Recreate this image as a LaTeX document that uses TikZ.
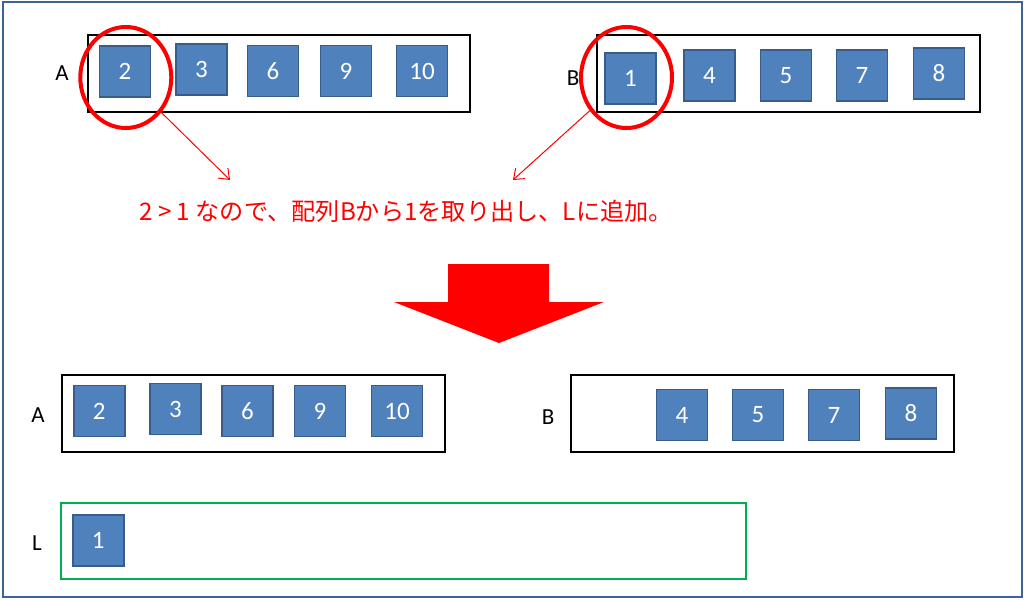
\documentclass[tikz,border=0pt]{standalone}
\usepackage{fontspec}
\setmainfont{Carlito}
\newfontfamily\jpfont{Noto Sans CJK JP}
\usetikzlibrary{shapes.geometric,arrows.meta}
\definecolor{cellfill}{HTML}{4F81BD}
\definecolor{celledge}{HTML}{385D8A}
\definecolor{framecol}{RGB}{62,100,150}
\definecolor{lgreen}{HTML}{00B050}
\begin{document}
\begin{tikzpicture}[x=1pt,y=-1pt,
  cell/.style={draw=celledge, line width=1.5pt, fill=cellfill, minimum size=51pt, inner sep=0pt, text=white, font=\fontsize{25}{30}\selectfont},
  arrbox/.style={draw=black, line width=2pt, inner sep=0pt},
  lbox/.style={draw=lgreen, line width=2.5pt, inner sep=0pt},
  lab/.style={font=\fontsize{23}{28}\selectfont, inner sep=0pt},
  ring/.style={ellipse, draw=red, line width=4pt, minimum width=91pt, minimum height=101pt, inner sep=0pt},
  pointer/.style={draw=red, line width=1pt, -{Straight Barb[length=9pt,width=14pt]}}
]
\useasboundingbox (0,0) rectangle (1024,599);
\draw[framecol, line width=2pt] (2.5,2.5) rectangle (1021.5,596.5);

% top A
\node[arrbox, minimum width=382pt, minimum height=77pt] (topA) at (279,73.5) {};
\node[lab] (labA1) at (62,73) {A};
\node[cell] (a1) at (125,71.4) {2};
\node[cell] (a2) at (201.5,69.5) {3};
\node[cell] (a3) at (273,71) {6};
\node[cell] (a4) at (346,71) {9};
\node[cell] (a5) at (422,71) {10};

% top B
\node[arrbox, minimum width=383pt, minimum height=77pt] (topB) at (788.5,73.5) {};
\node[lab] (labB1) at (573,78) {B};
\node[cell] (b1) at (630.5,78.5) {1};
\node[cell] (b2) at (709.5,75.5) {4};
\node[cell] (b3) at (786,75.5) {5};
\node[cell] (b4) at (862,75.5) {7};
\node[cell] (b5) at (939,73.5) {8};

% rings
\node[ring] (cA) at (125.8,77.5) {};
\node[ring] (cB) at (626.5,77.5) {};

\coordinate (tA) at (230,180);
\coordinate (tB) at (513,180);
\draw[pointer] (cA) -- (tA);
\draw[pointer] (cB) -- (tB);

\node[anchor=west, text=red, inner sep=0pt, font=\jpfont\fontsize{24.2}{29}\selectfont] (msg) at (139,211) {2 > 1 なので、配列Bから1を取り出し、Lに追加。};

% big arrow
\fill[red] (448,264) -- (549,264) -- (549,302) -- (604,302) -- (499,343) -- (394,302) -- (448,302) -- cycle;

% bottom A
\node[arrbox, minimum width=383pt, minimum height=77pt] (botA) at (253.5,413.5) {};
\node[lab] (labA2) at (38,415) {A};
\node[cell] (c1) at (99.3,411) {2};
\node[cell] (c2) at (175.5,409) {3};
\node[cell] (c3) at (247.5,411) {6};
\node[cell] (c4) at (320,411) {9};
\node[cell] (c5) at (397,411) {10};

% bottom B
\node[arrbox, minimum width=383pt, minimum height=77pt] (botB) at (762.5,413.7) {};
\node[lab] (labB2) at (548,417) {B};
\node[cell] (d2) at (682,415) {4};
\node[cell] (d3) at (758,415) {5};
\node[cell] (d4) at (834,415) {7};
\node[cell] (d5) at (911,413.5) {8};

% L
\node[lbox, minimum width=685pt, minimum height=76pt] (Lbox) at (403.5,541) {};
\node[lab] (labL) at (37,543) {L};
\node[cell] (l1) at (98.3,540.3) {1};
\end{tikzpicture}
\end{document}
